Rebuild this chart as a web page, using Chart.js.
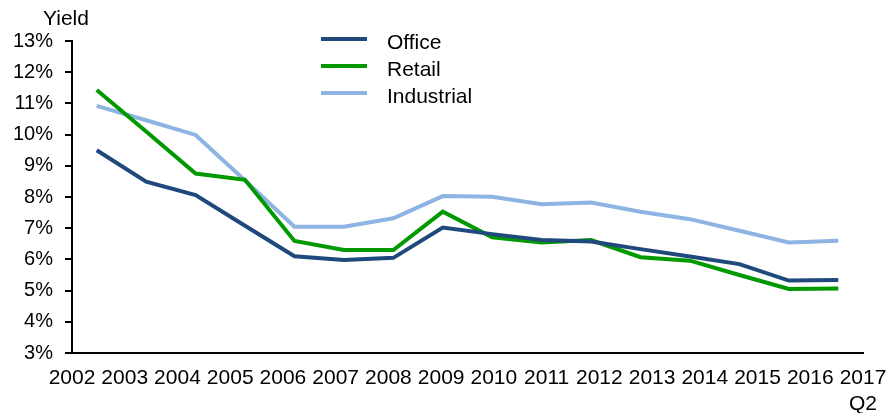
<!DOCTYPE html>
<html>
<head>
<meta charset="utf-8">
<script src="https://cdn.jsdelivr.net/npm/chart.js@4"></script>
<style>
  html, body { margin: 0; padding: 0; background: #fff; }
  canvas { display: block; }
</style>
</head>
<body>
<canvas id="yield-chart" width="887" height="413"></canvas>
<script>
const years = ['2002', '2003', '2004', '2005', '2006', '2007', '2008', '2009',
    '2010', '2011', '2012', '2013', '2014', '2015', '2016', ['2017', 'Q2']];
const office = [9.5, 8.49, 8.06, 7.08, 6.1, 5.98, 6.05, 7.02, 6.81, 6.62, 6.57, 6.33, 6.09, 5.85, 5.32, 5.34];
const retail = [11.43, 10.1, 8.75, 8.55, 6.59, 6.3, 6.3, 7.53, 6.71, 6.54, 6.62, 6.07, 5.96, 5.5, 5.05, 5.07];
const industrial = [10.92, 10.46, 9.99, 8.53, 7.05, 7.05, 7.32, 8.03, 8.01, 7.77, 7.82, 7.53, 7.29, 6.92, 6.54, 6.6];
const yTicks = [3, 4, 5, 6, 7, 8, 9, 10, 11, 12, 13];

const FONT = "'Liberation Sans', Arial, sans-serif";

// legend stacked in the plot + the "Yield" caption above the axis
const extras = {
    id: 'extras',
    afterDraw(chart) {
        const ctx = chart.ctx;
        ctx.save();
        ctx.font = '21px ' + FONT;
        ctx.fillStyle = '#000';
        ctx.textBaseline = 'middle';
        ctx.textAlign = 'left';
        ctx.fillText('Yield', 43, 19);

        chart.data.datasets.forEach((ds, i) => {
            const y = 39 + i * 27;
            ctx.strokeStyle = ds.borderColor;
            ctx.lineWidth = 4;
            ctx.beginPath();
            ctx.moveTo(321, y);
            ctx.lineTo(367, y);
            ctx.stroke();
            ctx.fillText(ds.label, 387, y + 4);
        });
        ctx.restore();
    }
};

const lineSet = (label, data, color) => ({
    label, data,
    borderColor: color,
    backgroundColor: color,
    borderWidth: 4,
    pointRadius: 0,
    tension: 0,
    fill: false
});

new Chart(document.getElementById('yield-chart'), {
    type: 'line',
    data: {
        labels: years,
        datasets: [
            lineSet('Office', office, '#1F497D'),
            lineSet('Retail', retail, '#009900'),
            lineSet('Industrial', industrial, '#8DB4E2')
        ]
    },
    options: {
        responsive: false,
        animation: false,
        layout: { padding: { top: 41, right: 24, left: 0, bottom: 0 } },
        plugins: {
            legend: { display: false },
            tooltip: { enabled: false }
        },
        scales: {
            x: {
                display: false,
                offset: true
            },
            x2: {
                type: 'category',
                labels: years,
                position: 'bottom',
                offset: false,
                grid: { display: false, drawTicks: false },
                border: { display: true, color: '#000', width: 2 },
                ticks: {
                    color: '#000',
                    font: { family: FONT, size: 21 },
                    padding: 13,
                    maxRotation: 0,
                    autoSkip: false
                },
                afterFit: (scale) => {
                    scale.height = 60;
                    // let the end labels hang past the plot edges
                    scale.paddingLeft = 0;
                    scale.paddingRight = 0;
                }
            },
            y: {
                min: 3,
                max: 13,
                afterBuildTicks: (scale) => { scale.ticks = yTicks.map(v => ({ value: v })); },
                grid: { drawOnChartArea: false, color: '#000', lineWidth: 2, tickLength: 7 },
                border: { color: '#000', width: 2 },
                ticks: {
                    color: '#000',
                    font: { family: FONT, size: 20 },
                    padding: 12,
                    callback: (v) => v + '%'
                },
                afterFit: (scale) => { scale.width = 72; }
            }
        }
    },
    plugins: [extras]
});
</script>
</body>
</html>
